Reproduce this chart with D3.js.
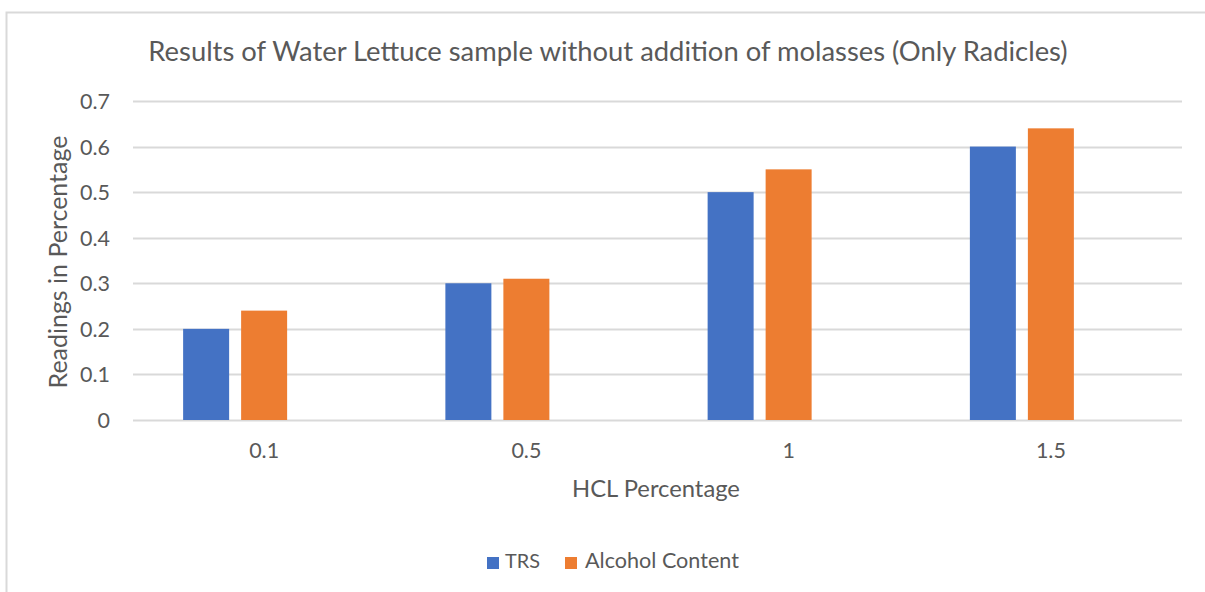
<!DOCTYPE html>
<html><head><meta charset="utf-8">
<script src="https://cdn.jsdelivr.net/npm/d3@7"></script>
<style>body{margin:0;background:#fff}svg{display:block}text{font-family:Lato,"Open Sans",sans-serif;fill:#595959}</style>
</head><body>
<script>
const categories = ["0.1", "0.5", "1", "1.5"];
const trs = [0.2, 0.3, 0.5, 0.6];
const alcohol = [0.24, 0.31, 0.55, 0.64];
const seriesNames = ["TRS", "Alcohol Content"];
const seriesColors = ["#4472C4", "#ED7D31"];
const yTicks = [0, 0.1, 0.2, 0.3, 0.4, 0.5, 0.6, 0.7];

const W = 1205, H = 592;
const svg = d3.select("body").append("svg").attr("width", W).attr("height", H);

// chart frame (cropped on right/bottom)
svg.append("rect").attr("x", 6.5).attr("y", 12.5).attr("width", 1300).attr("height", 700)
  .attr("fill", "#fff").attr("stroke", "#d9d9d9").attr("stroke-width", 2);

const plot = {left: 133, right: 1182, top: 101, bottom: 420};
const x = d3.scaleBand().domain(categories).range([plot.left, plot.right]);
// three slots: the third is an empty series in the source chart
const slots = ["s0", "s1", "s2"];
const xs = d3.scaleBand().domain(slots).range([0, 46 * 3 + 24]).paddingInner(12 / 58);
const groupW = 46 * 3 + 24;
const y = d3.scaleLinear().domain([0, 0.7]).range([plot.bottom, plot.top]);

function fit(sel, w) {
  const n = sel.node();
  const fs = parseFloat(sel.attr("font-size"));
  const cur = n.getComputedTextLength();
  sel.attr("font-size", fs * w / cur);
  return sel;
}

// gridlines
svg.append("g").selectAll("line").data(yTicks).join("line")
  .attr("x1", plot.left).attr("x2", plot.right)
  .attr("y1", d => Math.round(y(d)) + 0.5).attr("y2", d => Math.round(y(d)) + 0.5)
  .attr("stroke", "#d9d9d9").attr("stroke-width", 2);

// measure tick font size so "0.7" is ~30px wide
const probe = svg.append("text").attr("font-size", 18).text("0.7");
fit(probe, 30);
const tickFS = parseFloat(probe.attr("font-size"));
probe.remove();

// y axis labels
const yAxis = d3.axisLeft(y).tickValues(yTicks).tickFormat(d => d === 0 ? "0" : d3.format(".1f")(d)).tickSize(0).tickPadding(0);
const ya = svg.append("g").attr("transform", `translate(110,0)`).call(yAxis);
ya.select(".domain").remove();
ya.selectAll("text").attr("font-size", tickFS).style("font-family", "Lato").style("fill", "#595959").attr("dy", "0.35em");

// x axis labels
const xAxis = d3.axisBottom(x).tickSize(0).tickPadding(0);
const xa = svg.append("g").attr("transform", `translate(0,${plot.bottom})`).call(xAxis);
xa.select(".domain").remove();
xa.selectAll("text").attr("font-size", tickFS).style("font-family", "Lato").style("fill", "#595959").attr("dy", 0).attr("y", 38);

// bars
const dataSets = [trs, alcohol];
dataSets.forEach((vals, si) => {
  svg.append("g").selectAll("rect").data(vals).join("rect")
    .attr("x", (d, i) => x(categories[i]) + x.bandwidth() / 2 - groupW / 2 + xs(slots[si]))
    .attr("width", xs.bandwidth())
    .attr("y", d => y(d))
    .attr("height", d => y(0) - y(d))
    .attr("fill", seriesColors[si]);
});

// title
const title = svg.append("text").attr("x", 608).attr("y", 61).attr("text-anchor", "middle")
  .attr("font-size", 24).text("Results of Water Lettuce sample without addition of molasses (Only Radicles)");
fit(title, 920);

// y title
const yt = svg.append("text").attr("transform", "translate(67,262) rotate(-90)").attr("text-anchor", "middle")
  .attr("font-size", 20).text("Readings in Percentage");
fit(yt, 253);

// x title
const xt = svg.append("text").attr("x", 656).attr("y", 497).attr("text-anchor", "middle")
  .attr("font-size", 20).text("HCL Percentage");
fit(xt, 168);

// legend
const legendX = [487, 565];
const legendTextX = [505, 585];
const legendW = [35, 154];
seriesNames.forEach((name, i) => {
  svg.append("rect").attr("x", legendX[i]).attr("y", 557).attr("width", 12).attr("height", 12).attr("fill", seriesColors[i]);
  const t = svg.append("text").attr("x", legendTextX[i]).attr("y", 568).attr("font-size", 18).text(name);
  fit(t, legendW[i]);
});
</script>
</body></html>
